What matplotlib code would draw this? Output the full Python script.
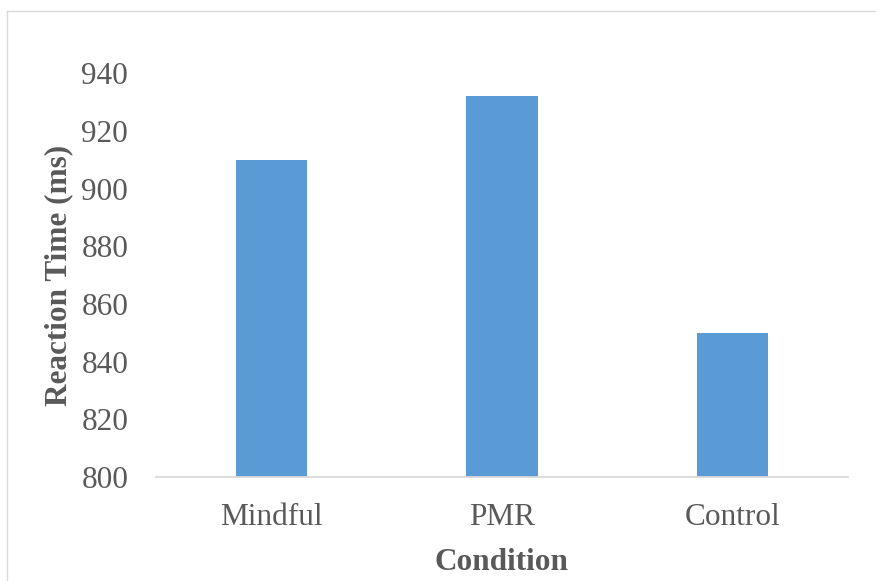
import matplotlib.pyplot as plt
from matplotlib.lines import Line2D

# reaction time per condition
conditions = ["Mindful", "PMR", "Control"]
reaction_ms = [910, 932, 850]
y_ticks = [800, 820, 840, 860, 880, 900, 920, 940]

bar_color = "#5B9BD5"
text_color = "#595959"
line_color = "#D9D9D9"

plt.rcParams['font.family'] = ['Liberation Serif', 'DejaVu Serif']

fig = plt.figure(figsize=(8.76, 5.81), dpi=100)
ax = fig.add_axes([0.178, 0.179, 0.790, 0.695])

x = list(range(len(conditions)))
ax.bar(x, reaction_ms, width=0.31, color=bar_color, zorder=2)

ax.set_xlim(-0.5, len(conditions) - 0.5)
ax.set_ylim(800, 940)
ax.set_yticks(y_ticks)
ax.set_xticks(x)
ax.set_xticklabels(conditions)

for side in ["top", "right", "left"]:
    ax.spines[side].set_visible(False)
ax.spines["bottom"].set_color(line_color)
ax.spines["bottom"].set_linewidth(1.3)

ax.tick_params(axis="both", length=0, labelsize=22.5, colors=text_color)
ax.tick_params(axis="x", pad=19)
ax.tick_params(axis="y", pad=20)

ax.set_xlabel("Condition", fontsize=22.5, fontweight="bold", color=text_color, labelpad=11)
ax.set_ylabel("Reaction Time (ms)", fontsize=22.5, fontweight="bold", color=text_color, labelpad=6)

# chart area outline (top and left edges fall inside the image)
fig.add_artist(Line2D([0.008, 0.008], [-0.05, 0.981], transform=fig.transFigure,
                      color=line_color, lw=1.0))
fig.add_artist(Line2D([0.008, 1.05], [0.981, 0.981], transform=fig.transFigure,
                      color=line_color, lw=1.0))

fig.savefig("out.png", dpi=100, facecolor="white")
